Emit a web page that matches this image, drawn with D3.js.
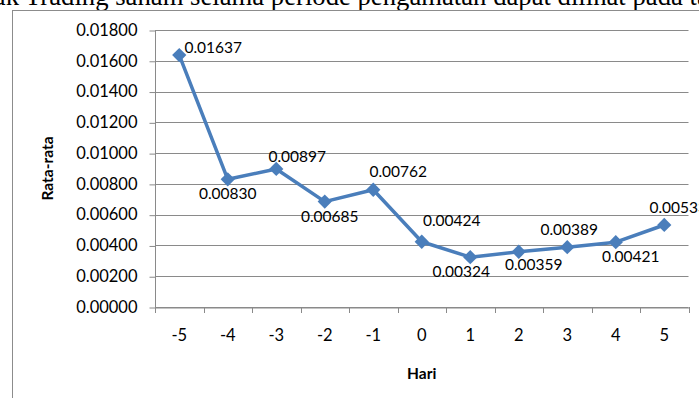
<!DOCTYPE html>
<html>
<head>
<meta charset="utf-8">
<script src="https://cdn.jsdelivr.net/npm/d3@7"></script>
<style>
  html, body { margin: 0; padding: 0; background: #fff; overflow: hidden; }
  svg { display: block; }
</style>
</head>
<body>
<svg id="chart" width="699" height="398"></svg>
<script>
// Average values per day around the event date
const days = ["-5", "-4", "-3", "-2", "-1", "0", "1", "2", "3", "4", "5"];
const averages = [0.01637, 0.00830, 0.00897, 0.00685, 0.00762, 0.00424, 0.00324, 0.00359, 0.00389, 0.00421, 0.00533];
const yTicks = [0, 0.002, 0.004, 0.006, 0.008, 0.010, 0.012, 0.014, 0.016, 0.018];

// Where each value label sits relative to its marker
const labelOffsets = [
  [34, -8], [0, 14], [21, -12], [5, 15], [25, -18], [30, -21],
  [-9, 14], [15, 13], [2, -18], [15, 14], [14, -17]
];

const svg = d3.select("#chart");
const W = 699, H = 398;
const margin = { left: 155, right: W - 688.5, top: 30, bottom: H - 307 };

// Running paragraph text above the chart frame
const serif = "'Liberation Serif', 'Times New Roman', serif";
svg.append("text")
  .attr("x", 19).attr("y", 5)
  .attr("text-anchor", "end")
  .attr("font-family", serif).attr("font-size", 26.7).attr("fill", "#000")
  .text("ak");
svg.append("text")
  .attr("x", 25).attr("y", 5)
  .attr("font-family", serif).attr("font-size", 26.7).attr("fill", "#000")
  .text("Trading saham selama periode pengamatan dapat dilihat pada tabel");

// Chart frame
svg.append("rect")
  .attr("x", 12.5).attr("y", 10.5)
  .attr("width", 720).attr("height", 420)
  .attr("fill", "#fff")
  .attr("stroke", "#8c8c8c").attr("stroke-width", 1);

const x = d3.scaleBand().domain(days).range([margin.left, W - margin.right]).padding(0);
const y = d3.scaleLinear().domain([0, 0.018]).range([H - margin.bottom, margin.top]);

const fontUI = "Lato, 'Open Sans', 'DejaVu Sans', sans-serif";
const grey = "#8a8a8a";

// Horizontal gridlines
svg.append("g")
  .selectAll("line")
  .data(yTicks)
  .join("line")
  .attr("x1", margin.left).attr("x2", W - margin.right)
  .attr("y1", d => Math.round(y(d)) + 0.5).attr("y2", d => Math.round(y(d)) + 0.5)
  .attr("stroke", grey).attr("stroke-width", 1);

// Y axis
const yAxis = svg.append("g")
  .attr("transform", `translate(${margin.left + 0.5},0)`)
  .call(d3.axisLeft(y).tickValues(yTicks).tickFormat(d3.format(".5f")).tickSize(6).tickPadding(12));
yAxis.selectAll("text")
  .attr("font-family", fontUI).attr("font-size", 16.5).attr("fill", "#000");
yAxis.selectAll("line, path").attr("stroke", grey);
yAxis.select(".domain").attr("d", `M0,${y(0.018)}V${y(0)}`);
yAxis.selectAll(".tick line").attr("transform", "translate(0,0.5)");

// X axis
const xAxis = svg.append("g")
  .attr("transform", `translate(0,${Math.round(y(0)) + 0.5})`)
  .call(d3.axisBottom(x).tickSize(0).tickPadding(22));
xAxis.select(".domain").attr("stroke", grey);
xAxis.selectAll("text")
  .attr("font-family", fontUI).attr("font-size", 16.5).attr("fill", "#000");
// Category boundary tick marks
svg.append("g")
  .selectAll("line")
  .data(d3.range(days.length + 1))
  .join("line")
  .attr("x1", i => Math.round(margin.left + i * x.bandwidth()) + 0.5)
  .attr("x2", i => Math.round(margin.left + i * x.bandwidth()) + 0.5)
  .attr("y1", Math.round(y(0))).attr("y2", Math.round(y(0)) + 6)
  .attr("stroke", grey);

// Axis titles
svg.append("text")
  .attr("transform", `translate(53,${(y(0.018) + y(0)) / 2}) rotate(-90)`)
  .attr("text-anchor", "middle")
  .attr("font-family", fontUI).attr("font-size", 15.5).attr("font-weight", "bold")
  .text("Rata-rata");
svg.append("text")
  .attr("x", (margin.left + W - margin.right) / 2).attr("y", 379)
  .attr("text-anchor", "middle")
  .attr("font-family", fontUI).attr("font-size", 15.5).attr("font-weight", "bold")
  .text("Hari");

const cx = i => x(days[i]) + x.bandwidth() / 2;

// Series line
const line = d3.line().x((d, i) => cx(i)).y(d => y(d));
svg.append("path")
  .datum(averages)
  .attr("d", line)
  .attr("fill", "none")
  .attr("stroke", "#4a7ebb").attr("stroke-width", 3.5)
  .attr("stroke-linejoin", "round");

// Diamond markers
svg.append("g")
  .selectAll("path")
  .data(averages)
  .join("path")
  .attr("d", d3.symbol(d3.symbolDiamond2, 130))
  .attr("transform", (d, i) => `translate(${cx(i)},${y(d)})`)
  .attr("fill", "#4a7ebb");

// Value labels
svg.append("g")
  .selectAll("text")
  .data(averages)
  .join("text")
  .attr("x", (d, i) => cx(i) + labelOffsets[i][0])
  .attr("y", (d, i) => y(d) + labelOffsets[i][1])
  .attr("dy", "0.35em")
  .attr("text-anchor", "middle")
  .attr("font-family", fontUI).attr("font-size", 15.5).attr("fill", "#000")
  .text(d => d3.format(".5f")(d));
</script>
</body>
</html>
